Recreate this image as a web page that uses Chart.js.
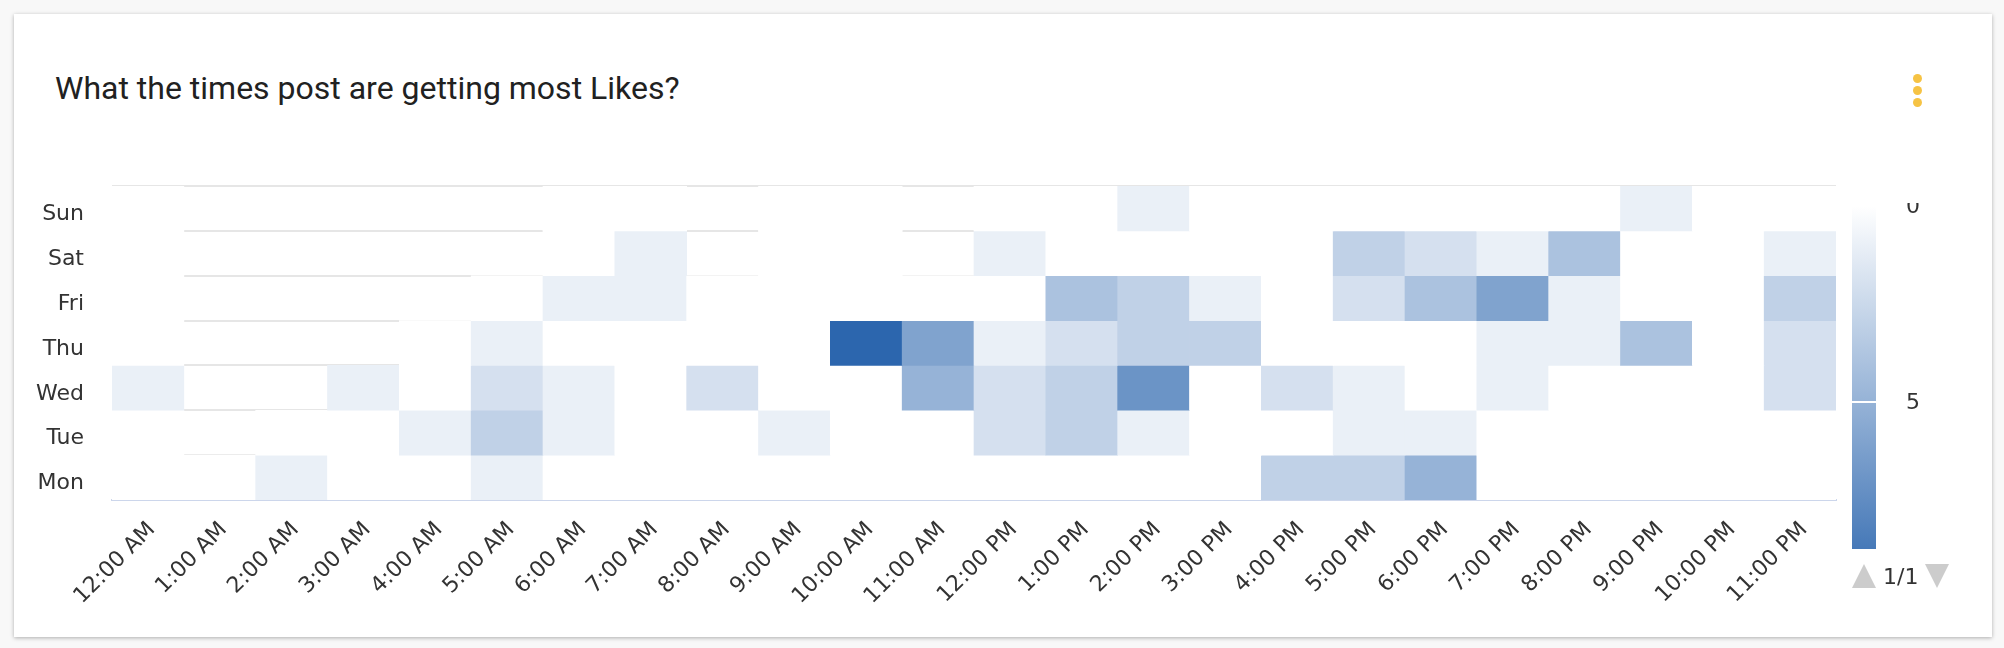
<!DOCTYPE html>
<html lang="en">
<head>
<meta charset="UTF-8">
<title>Likes by post time</title>
<script src="https://cdn.jsdelivr.net/npm/chart.js"></script>
<style>
  body { margin: 0; background: #f8f8f8; width: 2004px; height: 648px; overflow: hidden; }
  .card { position: absolute; left: 14px; top: 14px; width: 1978px; height: 623px; background: #fff;
          box-shadow: 0 1px 4px rgba(0,0,0,.3); }
  .card h2 { position: absolute; left: 41px; top: 55px; margin: 0; font: 400 32px Roboto, sans-serif;
             color: #212121; line-height: 38px; white-space: nowrap; }
  .dots span { position: absolute; left: 1899px; width: 9px; height: 9px; border-radius: 50%; background: #f6c344; }
  #wrap { position: absolute; left: 0; top: 106px; width: 1978px; height: 517px; }
  .scale { position: absolute; left: 1838px; top: 189px; width: 120px; height: 346px; overflow: hidden;
           font: 22px "DejaVu Sans", sans-serif; color: #333; }
  .scale .bar { position: absolute; left: 0; top: 3px; width: 24px; }
  .scale .mark { position: absolute; left: 0; width: 24px; height: 2px; background: #fff; }
  .scale .lbl { position: absolute; left: 54px; line-height: 22px; }
  .pager { position: absolute; left: 1838px; top: 550px; height: 24px; font: 22px "DejaVu Sans", sans-serif;
           color: #333; display: flex; align-items: center; }
  .up { width: 0; height: 0; border-left: 12px solid transparent; border-right: 12px solid transparent;
        border-bottom: 24px solid #ccc; }
  .down { width: 0; height: 0; border-left: 12px solid transparent; border-right: 12px solid transparent;
          border-top: 24px solid #ccc; }
  .pager b { font-weight: normal; margin: 0 7px; }
</style>
</head>
<body>
<div class="card">
  <h2>What the times post are getting most Likes?</h2>
  <div class="dots"><span style="top:60px"></span><span style="top:72px"></span><span style="top:84px"></span></div>
  <div id="wrap"><canvas id="heat"></canvas></div>
  <div class="scale" id="scale"></div>
  <div class="pager"><div class="up"></div><b>1/1</b><div class="down"></div></div>
</div>

<script>
  const n = null; // no post in that slot

  const days = ['Sun', 'Sat', 'Fri', 'Thu', 'Wed', 'Tue', 'Mon'];
  const hours = ['12:00 AM', '1:00 AM', '2:00 AM', '3:00 AM', '4:00 AM', '5:00 AM', '6:00 AM', '7:00 AM',
                 '8:00 AM', '9:00 AM', '10:00 AM', '11:00 AM', '12:00 PM', '1:00 PM', '2:00 PM', '3:00 PM',
                 '4:00 PM', '5:00 PM', '6:00 PM', '7:00 PM', '8:00 PM', '9:00 PM', '10:00 PM', '11:00 PM'];

  // likes per hour, one list per day
  const sun = [0, n, n, n, n, n, 0, 0, n, 0, 0, n, 0, 0, 1, 0, 0, 0, 0, 0, 0, 1, 0, 0];
  const sat = [0, n, n, n, n, n, 0, 1, n, 0, 0, n, 1, 0, 0, 0, 0, 3, 2, 1, 4, 0, 0, 1];
  const fri = [0, n, n, n, n, 0, 1, 1, 0, 0, 0, 0, 0, 4, 3, 1, 0, 2, 4, 6, 1, 0, 0, 3];
  const thu = [0, n, n, n, 0, 1, 0, 0, 0, 0, 10, 6, 1, 2, 3, 3, 0, 0, 0, 1, 1, 4, 0, 2];
  const wed = [1, n, n, 1, 0, 2, 1, 0, 2, 0, 0, 5, 2, 3, 7, 0, 2, 1, 0, 1, 0, 0, 0, 2];
  const tue = [0, n, 0, 0, 1, 3, 1, 0, 0, 1, 0, 0, 2, 3, 1, 0, 0, 1, 1, 0, 0, 0, 0, 0];
  const mon = [0, 0, 1, 0, 0, 1, 0, 0, 0, 0, 0, 0, 0, 0, 0, 0, 3, 3, 5, 0, 0, 0, 0, 0];

  const scaleTicks = [0, 5];
  const scaleMax = 10;

  const rows = [sun, sat, fri, thu, wed, tue, mon];
  const minColor = [255, 255, 255];
  const maxColor = [44, 102, 174];

  function cor(v) {
    if (v === null) return null;
    const t = Math.min(v / scaleMax, 1);
    const c = minColor.map((m, i) => Math.round(m + (maxColor[i] - m) * t));
    return 'rgb(' + c.join(',') + ')';
  }

  const fonte = { family: 'DejaVu Sans', size: 22 };

  const grafico = new Chart(document.getElementById('heat'), {
    type: 'bar',
    data: {
      labels: hours,
      datasets: rows.map((r, i) => ({
        label: days[i],
        data: r.map(v => v === null ? null : [days.length - 1 - i, days.length - i]),
        backgroundColor: r.map(cor),
        yAxisID: 'yv',
        borderWidth: 0
      }))
    },
    options: {
      responsive: true,
      maintainAspectRatio: false,
      animation: false,
      events: [],
      grouped: false,
      barPercentage: 1,
      categoryPercentage: 1,
      layout: { padding: { top: 66, right: 156, left: 0, bottom: 0 } },
      plugins: { legend: { display: false }, tooltip: { enabled: false } },
      scales: {
        x: {
          grid: { display: false },
          border: { display: true, color: '#ccd6eb', width: 2 },
          ticks: { color: '#333', font: fonte, minRotation: 45, maxRotation: 45, autoSkip: false,
                   padding: 9, labelOffset: 4 },
          afterFit: s => { s.height = 137; }
        },
        yv: { type: 'linear', min: 0, max: days.length, display: false },
        yd: {
          type: 'category',
          labels: days,
          position: 'left',
          offset: true,
          grid: { offset: true, color: '#e6e6e6', lineWidth: 2, drawTicks: false },
          border: { display: false },
          ticks: { color: '#333', font: fonte, padding: 28, labelOffset: 6 },
          afterFit: s => { s.width = 98; }
        }
      }
    }
  });

  // colour scale legend (gradient from the same min/max colours)
  const pxPorUnidade = 39.2;
  const escala = document.getElementById('scale');
  const barra = document.createElement('div');
  barra.className = 'bar';
  barra.style.height = (scaleMax * pxPorUnidade) + 'px';
  barra.style.background = 'linear-gradient(' + cor(0) + ',' + cor(scaleMax) + ')';
  escala.appendChild(barra);
  scaleTicks.forEach(t => {
    const y = 3 + t * pxPorUnidade;
    if (t > 0) {
      const m = document.createElement('div');
      m.className = 'mark';
      m.style.top = (y - 1) + 'px';
      escala.appendChild(m);
    }
    const l = document.createElement('div');
    l.className = 'lbl';
    l.style.top = (y - 11) + 'px';
    l.textContent = t;
    escala.appendChild(l);
  });
</script>
</body>
</html>
